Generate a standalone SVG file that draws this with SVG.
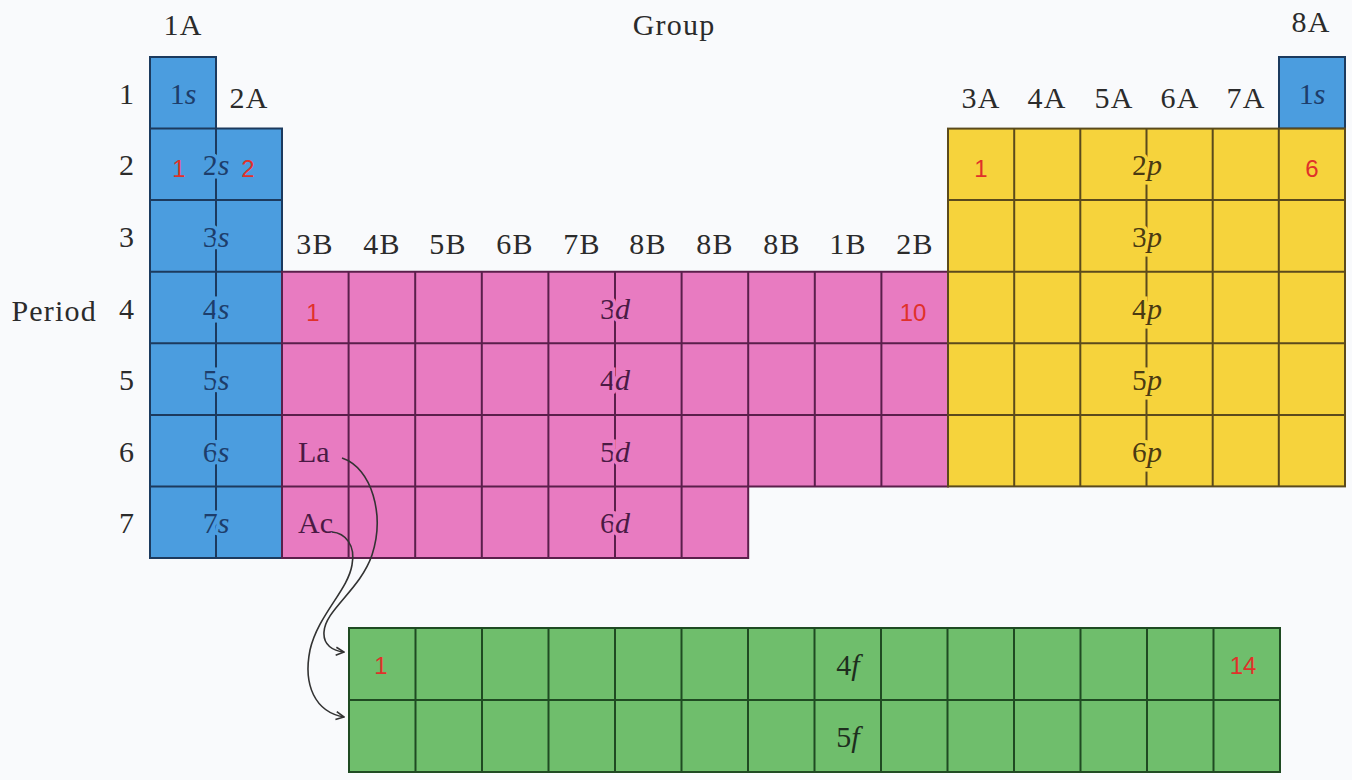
<svg xmlns="http://www.w3.org/2000/svg" width="1352" height="780" viewBox="0 0 1352 780">
<style>
.hdr{font-family:"Liberation Serif","Times New Roman",serif;font-size:30px;fill:#2b2b2b;letter-spacing:1.2px}
.lbl{font-family:"Liberation Serif","Times New Roman",serif;font-size:30px;text-anchor:middle;paint-order:stroke;stroke-width:7px}
.it{font-style:italic}
.red{font-family:"Liberation Sans",Arial,sans-serif;font-size:24px;fill:#e0312a;text-anchor:middle}
.bl{fill:#4b9ddf;stroke:#1c3a5e;stroke-width:2}
.bll{fill:none;stroke:#1c3a5e;stroke-width:2}
.pk{fill:#e87bc1;stroke:#5a1f4b;stroke-width:2}
.pkl{fill:none;stroke:#5a1f4b;stroke-width:2}
.ye{fill:#f6d33c;stroke:#5b4a1c;stroke-width:2}
.yel{fill:none;stroke:#5b4a1c;stroke-width:2}
.gr{fill:#6fbe6c;stroke:#1f4a22;stroke-width:2}
.grl{fill:none;stroke:#1f4a22;stroke-width:2}
.arr{fill:none;stroke:#333;stroke-width:1.6}
</style>
<defs>
<marker id="ah" viewBox="0 0 10 10" refX="9" refY="5" markerWidth="10" markerHeight="10" markerUnits="userSpaceOnUse" orient="auto">
<path d="M1,1 L9,5 L1,9" fill="none" stroke="#333" stroke-width="1.6"/>
</marker>
</defs>
<rect width="1352" height="780" fill="#f9fafc"/>

<g id="headers">
<text class="hdr" x="183" y="35" text-anchor="middle">1A</text>
<text class="hdr" x="674" y="35" text-anchor="middle">Group</text>
<text class="hdr" x="1311" y="32" text-anchor="middle">8A</text>
<text class="hdr" x="249" y="108" text-anchor="middle">2A</text>
<text class="hdr" x="981" y="108" text-anchor="middle">3A</text>
<text class="hdr" x="1047" y="108" text-anchor="middle">4A</text>
<text class="hdr" x="1114" y="108" text-anchor="middle">5A</text>
<text class="hdr" x="1180" y="108" text-anchor="middle">6A</text>
<text class="hdr" x="1246" y="108" text-anchor="middle">7A</text>
<text class="hdr" x="315" y="254" text-anchor="middle">3B</text>
<text class="hdr" x="382" y="254" text-anchor="middle">4B</text>
<text class="hdr" x="448" y="254" text-anchor="middle">5B</text>
<text class="hdr" x="515" y="254" text-anchor="middle">6B</text>
<text class="hdr" x="582" y="254" text-anchor="middle">7B</text>
<text class="hdr" x="648" y="254" text-anchor="middle">8B</text>
<text class="hdr" x="715" y="254" text-anchor="middle">8B</text>
<text class="hdr" x="782" y="254" text-anchor="middle">8B</text>
<text class="hdr" x="848" y="254" text-anchor="middle">1B</text>
<text class="hdr" x="915" y="254" text-anchor="middle">2B</text>
<text class="hdr" x="127" y="104" text-anchor="middle">1</text>
<text class="hdr" x="127" y="175" text-anchor="middle">2</text>
<text class="hdr" x="127" y="247" text-anchor="middle">3</text>
<text class="hdr" x="127" y="319" text-anchor="middle">4</text>
<text class="hdr" x="127" y="390" text-anchor="middle">5</text>
<text class="hdr" x="127" y="462" text-anchor="middle">6</text>
<text class="hdr" x="127" y="533" text-anchor="middle">7</text>
<text class="hdr" x="97" y="321" text-anchor="end">Period</text>
</g>

<g id="s-block">
<path class="bl" d="M150,57 H216 V128.6 H282 V558 H150 Z"/>
<path class="bll" d="M150,128.6 H216 M150,200.1 H282 M150,271.7 H282 M150,343.3 H282 M150,414.9 H282 M150,486.4 H282 M216,57 V558"/>
<rect class="bl" x="1279" y="57" width="66" height="71.6"/>
<g fill="#1d3d6b" stroke="#4b9ddf">
<text class="lbl" x="183" y="104" stroke="none">1<tspan class="it">s</tspan></text>
<text class="lbl" x="216" y="175">2<tspan class="it">s</tspan></text>
<text class="lbl" x="216" y="247">3<tspan class="it">s</tspan></text>
<text class="lbl" x="216" y="319">4<tspan class="it">s</tspan></text>
<text class="lbl" x="216" y="390">5<tspan class="it">s</tspan></text>
<text class="lbl" x="216" y="462">6<tspan class="it">s</tspan></text>
<text class="lbl" x="216" y="533">7<tspan class="it">s</tspan></text>
<text class="lbl" x="1312" y="104" stroke="none">1<tspan class="it">s</tspan></text>
</g>
<text class="red" x="179" y="177">1</text>
<text class="red" x="248" y="177">2</text>
</g>

<g id="d-block">
<path class="pk" d="M282,271.7 H948 V486.4 H748.2 V558 H282 Z"/>
<path class="pkl" d="M282,343.3 H948 M282,414.9 H948 M282,486.4 H748.2 M348.6,271.7 V558 M415.2,271.7 V558 M481.8,271.7 V558 M548.4,271.7 V558 M615,271.7 V558 M681.6,271.7 V558 M748.2,271.7 V486.4 M814.8,271.7 V486.4 M881.4,271.7 V486.4"/>
<g fill="#4a1a44" stroke="#e87bc1">
<text class="lbl" x="615" y="319">3<tspan class="it">d</tspan></text>
<text class="lbl" x="615" y="390">4<tspan class="it">d</tspan></text>
<text class="lbl" x="615" y="462">5<tspan class="it">d</tspan></text>
<text class="lbl" x="615" y="533">6<tspan class="it">d</tspan></text>
<text class="lbl" x="298" y="462" stroke="none" text-anchor="start" style="text-anchor:start">La</text>
<text class="lbl" x="298" y="533" stroke="none" text-anchor="start" style="text-anchor:start">Ac</text>
</g>
<text class="red" x="313" y="321">1</text>
<text class="red" x="913" y="321">10</text>
</g>

<g id="p-block">
<rect class="ye" x="948" y="128.6" width="397" height="357.8"/>
<path class="yel" d="M948,200.1 H1345 M948,271.7 H1345 M948,343.3 H1345 M948,414.9 H1345 M1014.2,128.6 V486.4 M1080.3,128.6 V486.4 M1146.5,128.6 V486.4 M1212.7,128.6 V486.4 M1278.8,128.6 V486.4"/>
<g fill="#4a3a12" stroke="#f6d33c">
<text class="lbl" x="1147" y="175">2<tspan class="it">p</tspan></text>
<text class="lbl" x="1147" y="247">3<tspan class="it">p</tspan></text>
<text class="lbl" x="1147" y="319">4<tspan class="it">p</tspan></text>
<text class="lbl" x="1147" y="390">5<tspan class="it">p</tspan></text>
<text class="lbl" x="1147" y="462">6<tspan class="it">p</tspan></text>
</g>
<text class="red" x="981" y="177">1</text>
<text class="red" x="1312" y="177">6</text>
</g>

<g id="f-block">
<rect class="gr" x="349" y="628" width="931" height="144"/>
<path class="grl" d="M349,700 H1280 M415.5,628 V772 M482,628 V772 M548.5,628 V772 M615,628 V772 M681.5,628 V772 M748,628 V772 M814.5,628 V772 M881,628 V772 M947.5,628 V772 M1014,628 V772 M1080.5,628 V772 M1147,628 V772 M1213.5,628 V772"/>
<g fill="#1e2e1e">
<text class="lbl" x="848" y="675">4<tspan class="it">f</tspan></text>
<text class="lbl" x="848" y="747">5<tspan class="it">f</tspan></text>
</g>
<text class="red" x="381" y="674">1</text>
<text class="red" x="1243" y="674">14</text>
</g>

<g id="connectors">
<path class="arr" marker-end="url(#ah)" d="M342,458 C372,468 385,515 372,555 C360,590 325,610 324,632 C323,645 333,651 344,652"/>
<path class="arr" marker-end="url(#ah)" d="M332,532 C345,533 356,545 352,565 C348,590 318,615 310,650 C303,685 315,712 344,717"/>
</g>
</svg>
